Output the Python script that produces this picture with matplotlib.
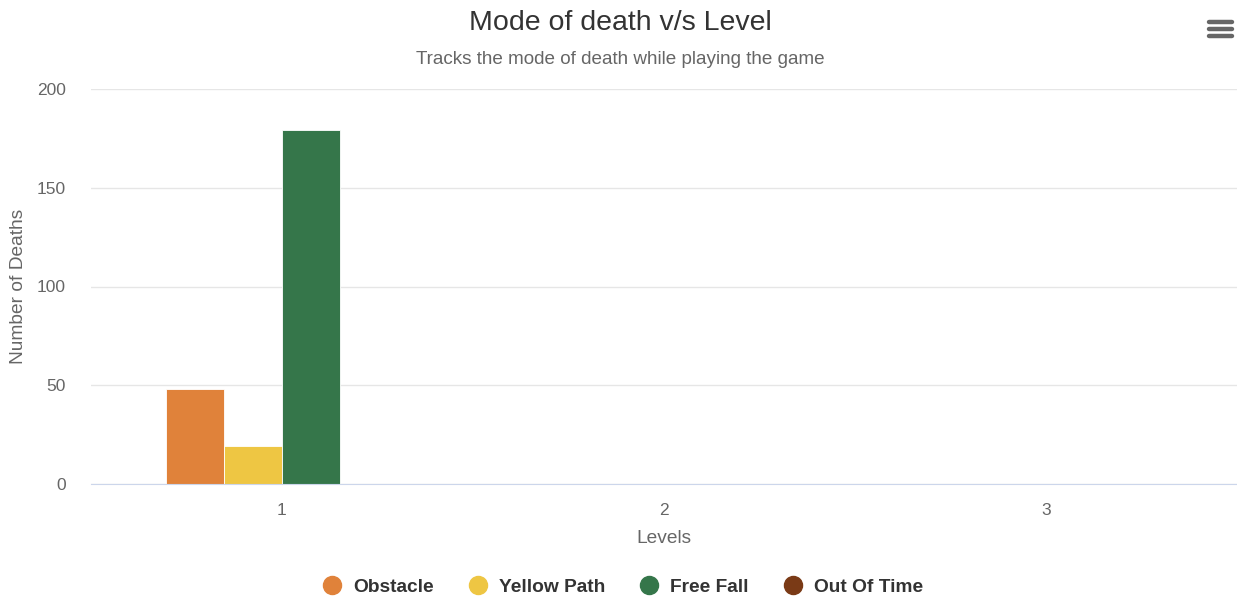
import matplotlib
matplotlib.use("Agg")
import matplotlib.pyplot as plt
from matplotlib.lines import Line2D
import numpy as np

levels = ["1", "2", "3"]
series_names = ["Obstacle", "Yellow Path", "Free Fall", "Out Of Time"]
obstacle = [48, 0, 0]
yellow_path = [19, 0, 0]
free_fall = [179, 0, 0]
out_of_time = [0, 0, 0]
colors = ["#E0823A", "#EEC643", "#35764A", "#7A3A16"]
y_ticks = [0, 50, 100, 150, 200]

plt.rcParams['font.family'] = ['Liberation Sans', 'DejaVu Sans']

W, H = 1237, 599
fig = plt.figure(figsize=(W / 100, H / 100), dpi=100)
ax = fig.add_axes([91 / W, 1 - 484 / H, (1237 - 91) / W, (484 - 89) / H])

x = np.arange(len(levels))
bw = 0.152
all_series = [obstacle, yellow_path, free_fall, out_of_time]
for i, (name, vals, c) in enumerate(zip(series_names, all_series, colors)):
    ax.bar(x + (i - 1.5) * bw, vals, width=bw, color=c, label=name, zorder=3,
           edgecolor='white', linewidth=0.6)

ax.set_xlim(-0.5, 2.5)
ax.set_ylim(0, 200)
ax.set_yticks(y_ticks)
ax.set_xticks(x)
ax.set_xticklabels(levels)
ax.yaxis.grid(True, color='#e6e6e6', linewidth=1, zorder=0)
ax.tick_params(axis='y', length=0, pad=18, labelsize=12.5, labelcolor='#666666')
ax.tick_params(axis='x', length=0, pad=14, labelsize=12.5, labelcolor='#666666')
for s in ['top', 'right', 'left']:
    ax.spines[s].set_visible(False)
ax.spines['bottom'].set_color('#ccd6eb')
ax.spines['bottom'].set_zorder(4)

ax.set_ylabel("Number of Deaths", fontsize=13.8, color='#666666', labelpad=7)
ax.set_xlabel("Levels", fontsize=13.8, color='#666666', labelpad=8.5)

fig.text(620 / W, 1 - 23 / H, "Mode of death v/s Level", ha='center', va='center',
         fontsize=20.5, color='#333333')
fig.text(620 / W, 1 - 60 / H, "Tracks the mode of death while playing the game",
         ha='center', va='center', fontsize=13.6, color='#666666')

handles = [Line2D([0], [0], marker='o', linestyle='none', markersize=13,
                  markerfacecolor=c, markeredgecolor=c) for c in colors]
leg = fig.legend(handles, series_names, loc='center', bbox_to_anchor=(620 / W, 1 - 587 / H),
                 ncol=4, frameon=False, handletextpad=0.3, columnspacing=1.5,
                 handlelength=1.6, prop={'weight': 'bold', 'size': 13.8})
for t in leg.get_texts():
    t.set_color('#333333')

# menu icon
for yy in [22, 29, 36]:
    fig.add_artist(Line2D([1209 / W, 1232 / W], [1 - yy / H, 1 - yy / H],
                          color='#666666', linewidth=3.2, solid_capstyle='round'))

fig.savefig("out.png", dpi=100)
